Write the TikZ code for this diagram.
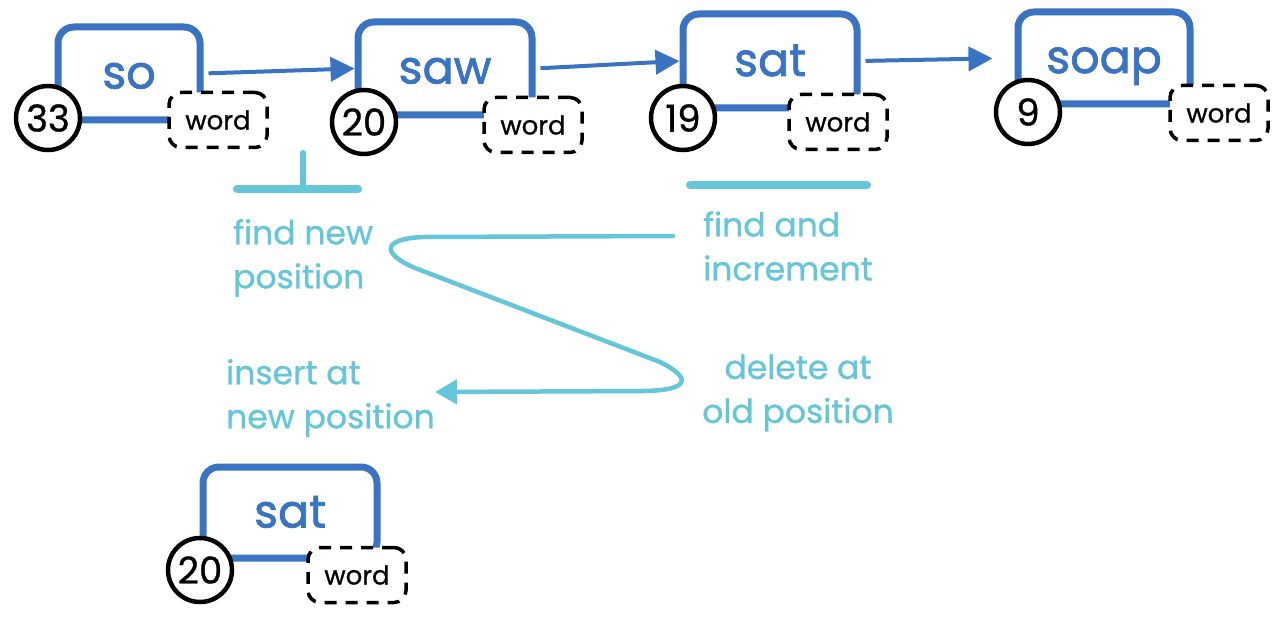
\documentclass[tikz,border=0pt]{standalone}
\usepackage{fontspec}
\setmainfont{Poppins}
\newfontfamily\blueface{Poppins}[FakeBold=1.6]
\newfontfamily\medface{Poppins}[FakeBold=0.9]
\usetikzlibrary{arrows.meta}
\definecolor{nblue}{HTML}{3A73C1}
\definecolor{ncyan}{HTML}{66C6D9}
\begin{document}
\begin{tikzpicture}[x=1pt,y=-1pt,
 wbox/.style={draw=nblue, line width=7pt, rounded corners=16pt, text=nblue, font=\blueface\fontsize{46}{46}\selectfont, inner sep=0pt, text height=30pt, text depth=0pt},
 num/.style={circle, draw=black, line width=4.5pt, fill=white, minimum size=64pt, inner sep=0pt, font=\medface\fontsize{37}{37}\selectfont},
 wordbox/.style={draw=black, line width=3.5pt, dash pattern=on 12pt off 9pt, rounded corners=12pt, fill=white, minimum width=98pt, minimum height=55pt, inner sep=0pt, font=\medface\fontsize{26}{26}\selectfont},
 link/.style={draw=nblue, line width=4pt, -{Triangle[length=24pt,width=24pt]}},
 lbl/.style={text=ncyan, font=\medface\fontsize{33}{44}\selectfont, inner sep=0pt},
 bar/.style={draw=ncyan, line width=8pt, line cap=round},
 flow/.style={draw=ncyan, line width=4.5pt, line cap=round, -{Triangle[length=22pt,width=24pt]}},
]
\fill[white] (0,0) rectangle (1286,628);
\useasboundingbox (0,0) rectangle (1286,628);

% word nodes
\node[wbox, minimum width=142pt, minimum height=93pt] (so) at (129,73.5) {so};
\node[num] (c1) at (48,118) {33};
\node[wordbox] (w1) at (218,120) {word};

\node[wbox, minimum width=174pt, minimum height=93pt] (saw) at (445,68.5) {saw};
\node[num] (c2) at (364,122) {20};
\node[wordbox] (w2) at (533,125) {word};

\node[wbox, minimum width=174pt, minimum height=94pt] (sat) at (770,61) {sat};
\node[num] (c3) at (683,118) {19};
\node[wordbox] (w3) at (838,122) {word};

\node[wbox, minimum width=172pt, minimum height=92pt] (soap) at (1104,58) {soap};
\node[num] (c4) at (1028,112) {9};
\node[wordbox] (w4) at (1219,113) {word};

\node[wbox, minimum width=174pt, minimum height=91pt] (sat2) at (290,512.5) {sat};
\node[num] (c5) at (200,570) {20};
\node[wordbox] (w5) at (357,575) {word};

% links
\draw[link, shorten <=5pt] (so.east) -- (saw.west);
\draw[link, shorten <=5pt] (saw.east) -- (sat.west);
\draw[link, shorten <=5pt, shorten >=22pt] (sat.east) -- (soap.west);

% cyan marks
\draw[bar] (237,189) -- (358,189);
\draw[bar, line width=6pt] (303,153) -- (303,189);
\draw[bar] (690,185) -- (867,185);

% labels
\node[lbl, anchor=west, align=left] (fnp) at (233,258) {find new\\position};
\node[lbl, anchor=west, align=left] (fai) at (703,246) {find and\\increment};
\node[lbl, anchor=west, align=left] (ins) at (226,398) {insert at\\new position};
\node[lbl, align=center] (dop) at (798,393) {delete at\\old position};

\coordinate (s0) at (673,236);
\draw[flow] (s0) -- (425,237) .. controls (385,238) and (378,252) .. (415,268)
  -- (660,362) .. controls (692,378) and (690,390) .. (645,391) -- (ins.east |- 0,392);
\end{tikzpicture}
\end{document}
